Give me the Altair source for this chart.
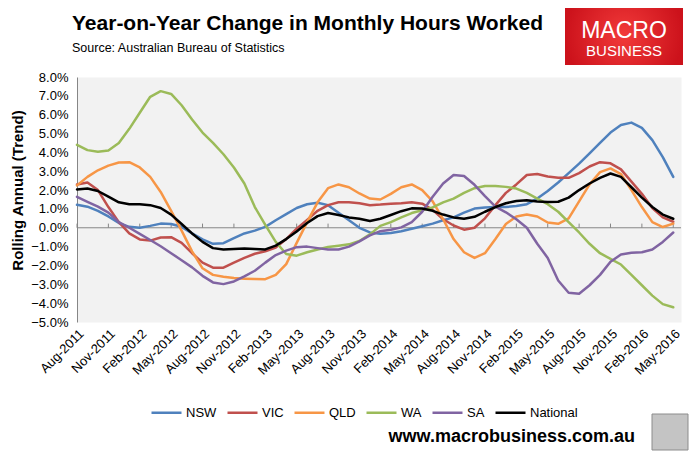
import altair as alt
import pandas as pd

# ---- categories ----
months = pd.date_range("2011-08-01", periods=58, freq="MS").strftime("%b-%Y").tolist()
tick_idx = list(range(0, 58, 3))
tick_labels = [months[i] for i in tick_idx]
y_ticks = list(range(-5, 9))

series_names = ["NSW", "VIC", "QLD", "WA", "SA", "National"]
series_colors = ["#4f81bd", "#c0504d", "#f79646", "#9bbb59", "#8064a2", "#000000"]
series_widths = [2.5, 2.5, 2.5, 2.5, 2.5, 4.5]

title_text = "Year-on-Year Change in Monthly Hours Worked"
subtitle_text = "Source: Australian Bureau of Statistics"
footer_text = "www.macrobusiness.com.au"

# ---- series values (% y/y, rolling annual trend) ----
nsw = [1.22, 1.12, 0.90, 0.60, 0.25, 0.05, 0.00, 0.10, 0.22, 0.20, 0.05, -0.30, -0.62, -0.85,
       -0.82, -0.55, -0.30, -0.15, 0.05, 0.40, 0.72, 1.05, 1.25, 1.33, 1.20, 0.80, 0.40, 0.00,
       -0.25, -0.32, -0.28, -0.18, -0.05, 0.08, 0.22, 0.40, 0.55, 0.80, 1.02, 1.08, 1.10, 1.10,
       1.15, 1.25, 1.55, 1.95, 2.40, 2.90, 3.40, 3.95, 4.50, 5.05, 5.45, 5.58, 5.30, 4.65, 3.75, 2.70]
vic = [2.30, 2.40, 2.00, 1.10, 0.30, -0.30, -0.62, -0.68, -0.52, -0.50, -0.80, -1.35, -1.85, -2.12,
       -2.12, -1.85, -1.60, -1.38, -1.25, -1.05, -0.60, -0.05, 0.42, 0.90, 1.20, 1.35, 1.35, 1.30,
       1.20, 1.23, 1.28, 1.30, 1.35, 1.28, 0.95, 0.45, 0.12, -0.10, 0.00, 0.50, 1.20, 1.85,
       2.30, 2.80, 2.85, 2.72, 2.65, 2.65, 2.90, 3.25, 3.48, 3.42, 3.10, 2.45, 1.80, 1.05, 0.55, 0.32]
qld = [2.25, 2.70, 3.05, 3.30, 3.46, 3.48, 3.20, 2.70, 1.90, 0.90, -0.15, -1.25, -2.15, -2.50,
       -2.60, -2.67, -2.70, -2.72, -2.73, -2.50, -1.93, -0.80, 0.30, 1.35, 2.10, 2.30, 2.15, 1.82,
       1.55, 1.50, 1.80, 2.15, 2.30, 2.00, 1.40, 0.45, -0.60, -1.30, -1.60, -1.35, -0.60, 0.20,
       0.60, 0.70, 0.60, 0.28, 0.21, 0.50, 1.40, 2.30, 2.95, 3.15, 2.85, 2.00, 1.10, 0.30, 0.04, 0.22]
wa = [4.40, 4.12, 4.03, 4.10, 4.50, 5.25, 6.10, 6.95, 7.25, 7.10, 6.50, 5.75, 5.05, 4.50,
      3.90, 3.20, 2.35, 1.10, 0.15, -0.75, -1.39, -1.48, -1.30, -1.15, -1.02, -0.95, -0.88, -0.70,
      -0.35, 0.10, 0.30, 0.55, 0.78, 0.93, 1.08, 1.35, 1.55, 1.85, 2.10, 2.22, 2.22, 2.17,
      2.08, 1.85, 1.55, 1.25, 0.85, 0.30, -0.25, -0.85, -1.35, -1.65, -1.95, -2.50, -3.05, -3.60, -4.05, -4.22]
sa = [1.64, 1.38, 1.12, 0.80, 0.30, 0.00, -0.32, -0.65, -0.98, -1.35, -1.72, -2.10, -2.55, -2.90,
      -2.99, -2.85, -2.58, -2.28, -1.85, -1.45, -1.21, -1.03, -1.00, -1.08, -1.15, -1.15, -1.00, -0.72,
      -0.40, -0.18, -0.10, 0.02, 0.30, 0.85, 1.65, 2.35, 2.80, 2.75, 2.28, 1.68, 1.12, 0.82,
      0.45, 0.00, -0.85, -1.60, -2.80, -3.45, -3.50, -3.05, -2.50, -1.80, -1.42, -1.33, -1.30, -1.15, -0.75, -0.25]
national = [2.03, 2.08, 1.95, 1.65, 1.35, 1.25, 1.25, 1.20, 1.05, 0.70, 0.20, -0.30, -0.75, -1.08,
            -1.15, -1.12, -1.10, -1.13, -1.15, -0.95, -0.60, -0.20, 0.25, 0.62, 0.78, 0.68, 0.55, 0.48,
            0.36, 0.48, 0.68, 0.88, 1.03, 1.02, 0.90, 0.70, 0.55, 0.48, 0.58, 0.85, 1.10, 1.30,
            1.42, 1.46, 1.40, 1.37, 1.38, 1.60, 2.00, 2.35, 2.65, 2.88, 2.70, 2.15, 1.60, 1.10, 0.70, 0.48]

rows = []
for name, vals in zip(series_names, [nsw, vic, qld, wa, sa, national]):
    for i, v in enumerate(vals):
        rows.append({"series": name, "idx": i, "month": months[i], "value": v})
df = pd.DataFrame(rows)

ticks_df = pd.DataFrame({"idx": tick_idx, "value": [0.0] * len(tick_idx), "value2": [0.22] * len(tick_idx)})
zero_df = pd.DataFrame({"value": [0.0]})
one = pd.DataFrame({"k": [0]})

FONT = "Liberation Sans"
label_expr = "[" + ",".join("'%s'" % l for l in tick_labels) + "][round(datum.value / 3)]"

x_enc = alt.X(
    "idx:Q",
    scale=alt.Scale(domain=[0, 57.74], nice=False, zero=False),
    axis=alt.Axis(values=tick_idx, labelExpr=label_expr, labelAngle=-45, domain=False, ticks=False,
                  grid=False, labelPadding=5, labelFontSize=13, labelFont=FONT, labelColor="#000000",
                  labelOverlap=False, labelFlush=False, labelBound=False),
    title=None,
)
y_enc = alt.Y(
    "value:Q",
    scale=alt.Scale(domain=[-5, 8], nice=False, zero=False),
    axis=alt.Axis(values=y_ticks, labelExpr="format(datum.value, '.1f') + '%'", grid=False, ticks=False,
                  domainColor="#868686", domainWidth=1, labelPadding=9, labelFontSize=13, labelFont=FONT,
                  labelColor="#000000", titleFontSize=15, titleFont=FONT, titleFontWeight="bold",
                  titleColor="#000000", titleX=-52, titleY=113),
    title="Rolling Annual (Trend)",
)

leg = alt.Legend(title=None, orient="none", legendX=73, legendY=319, direction="horizontal",
                 symbolType="stroke", symbolSize=900, labelFontSize=13, labelFont=FONT,
                 labelColor="#000000", labelOffset=3, columnPadding=5, padding=0)
color_enc = alt.Color("series:N", scale=alt.Scale(domain=series_names, range=series_colors), legend=leg)
width_enc = alt.StrokeWidth("series:N", scale=alt.Scale(domain=series_names, range=series_widths), legend=leg)

zero_line = alt.Chart(zero_df).mark_rule(color="#868686", strokeWidth=1).encode(y=y_enc)
tick_marks = alt.Chart(ticks_df).mark_rule(color="#868686", strokeWidth=1).encode(
    x=x_enc, y=y_enc, y2="value2:Q")

states = alt.Chart(df).transform_filter(alt.datum.series != "National").mark_line(
    strokeJoin="round", strokeCap="round").encode(
    x=x_enc, y=y_enc, color=color_enc, strokeWidth=width_enc, detail="series:N")
nat = alt.Chart(df).transform_filter(alt.datum.series == "National").mark_line(
    strokeJoin="round", strokeCap="round").encode(
    x=x_enc, y=y_enc, color=color_enc, strokeWidth=width_enc)

title_mark = alt.Chart(one).mark_text(text=title_text, color="#000000", fontSize=21, fontWeight="bold",
                                      font=FONT, align="left", baseline="alphabetic").encode(
    x=alt.value(-5), y=alt.value(-47))
subtitle_mark = alt.Chart(one).mark_text(text=subtitle_text, color="#000000", fontSize=12.5, font=FONT,
                                         align="left", baseline="alphabetic").encode(
    x=alt.value(-5), y=alt.value(-25))

logo_box = alt.Chart(one).mark_rect(
    fill=alt.Gradient(gradient="radial",
                      stops=[alt.GradientStop(color="#f23a3a", offset=0),
                             alt.GradientStop(color="#cc121b", offset=1)])
).encode(x=alt.value(488), x2=alt.value(606), y=alt.value(-72), y2=alt.value(-12))
logo_t1 = alt.Chart(one).mark_text(text="MACRO", color="white", fontSize=23, font=FONT, align="center",
                                   baseline="alphabetic").encode(x=alt.value(547), y=alt.value(-39))
logo_t2 = alt.Chart(one).mark_text(text="BUSINESS", color="white", fontSize=15, font=FONT, align="center",
                                   baseline="alphabetic").encode(x=alt.value(547), y=alt.value(-21))
footer = alt.Chart(one).mark_text(text=footer_text, color="#000000", fontSize=18, font=FONT,
                                  fontWeight="bold", align="right", baseline="middle").encode(
    x=alt.value(558), y=alt.value(360))
wolf = alt.Chart(one).mark_rect(fill="#c4c4c4", stroke="#8c8c8c", strokeWidth=1).encode(
    x=alt.value(575), x2=alt.value(611), y=alt.value(337), y2=alt.value(373))

chart = alt.layer(zero_line, tick_marks, states, nat, title_mark, subtitle_mark,
                  logo_box, logo_t1, logo_t2, footer, wolf).properties(
    width=604,
    height=245,
    padding={"left": 69, "top": 69, "right": 8, "bottom": 130},
    autosize=alt.AutoSizeParams(type="none"),
).configure(font=FONT).configure_view(fill="#f2f2f2", stroke="transparent")

chart.save("out.html", embed_options={"renderer": "svg", "actions": False})
